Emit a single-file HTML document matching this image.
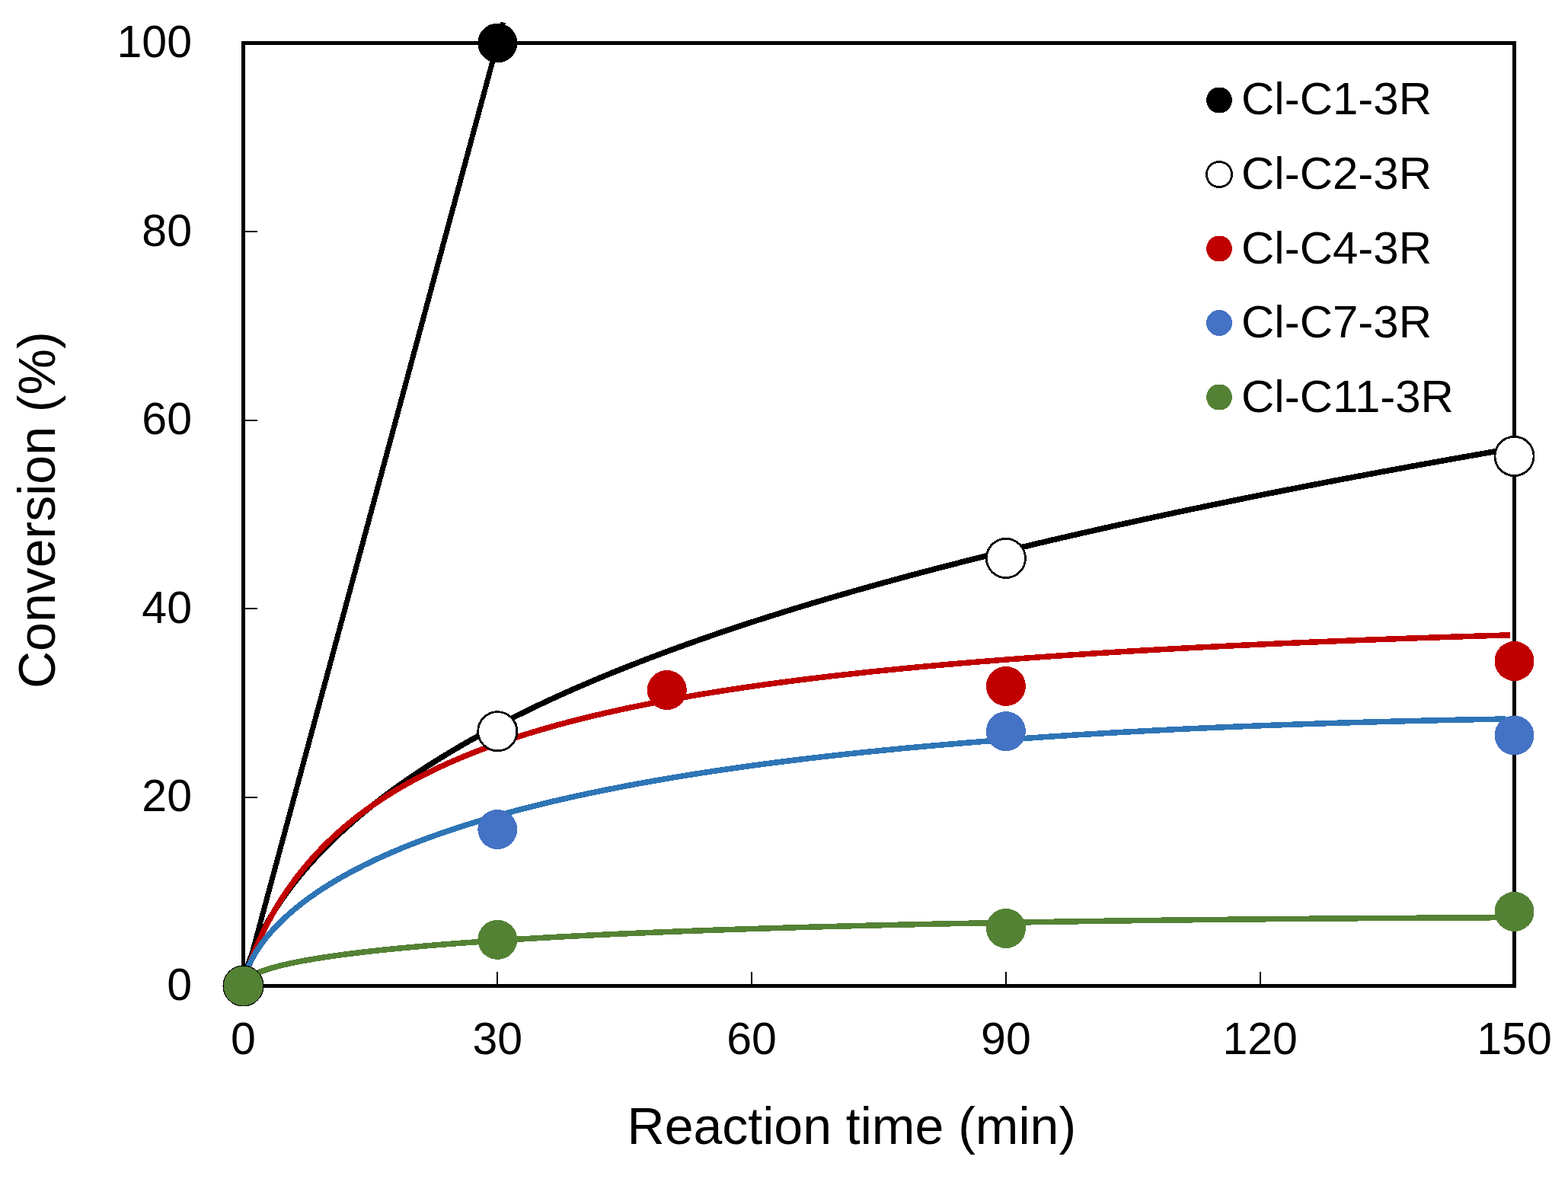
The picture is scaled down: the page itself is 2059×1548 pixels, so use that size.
<!DOCTYPE html>
<html><head><meta charset="utf-8"><title>Conversion vs Reaction time</title>
<style>
html,body{margin:0;padding:0;background:#fff;width:2059px;height:1548px;overflow:hidden}
svg{display:block}
text{font-family:"Liberation Sans",Arial,sans-serif;fill:#000}
</style></head><body>
<svg width="2059" height="1548" viewBox="0 0 2059 1548" shape-rendering="crispEdges">
<rect width="2059" height="1548" fill="#fff"/>
<g id="ticks"><line x1="319.5" y1="1046.90" x2="338" y2="1046.90" stroke="#000" stroke-width="2"/><line x1="319.5" y1="799.30" x2="338" y2="799.30" stroke="#000" stroke-width="2"/><line x1="319.5" y1="551.70" x2="338" y2="551.70" stroke="#000" stroke-width="2"/><line x1="319.5" y1="304.10" x2="338" y2="304.10" stroke="#000" stroke-width="2"/><line x1="653.30" y1="1276" x2="653.30" y2="1294.5" stroke="#000" stroke-width="2"/><line x1="987.10" y1="1276" x2="987.10" y2="1294.5" stroke="#000" stroke-width="2"/><line x1="1320.90" y1="1276" x2="1320.90" y2="1294.5" stroke="#000" stroke-width="2"/><line x1="1654.70" y1="1276" x2="1654.70" y2="1294.5" stroke="#000" stroke-width="2"/></g>
<g id="lines" stroke-linejoin="round"><line x1="319.50" y1="1294.50" x2="660.6" y2="29.5" stroke="#000" stroke-width="7"/><path d="M319.50,1294.50 L319.53,1293.90 L319.62,1292.89 L319.76,1291.62 L319.97,1290.16 L320.23,1288.52 L320.55,1286.75 L320.93,1284.84 L321.37,1282.82 L321.87,1280.69 L322.42,1278.46 L323.04,1276.15 L323.71,1273.74 L324.44,1271.27 L325.23,1268.71 L326.07,1266.09 L326.98,1263.41 L327.94,1260.67 L328.97,1257.86 L330.05,1255.01 L331.19,1252.10 L332.39,1249.15 L333.64,1246.15 L334.96,1243.11 L336.33,1240.03 L337.76,1236.91 L339.25,1233.75 L340.80,1230.56 L342.41,1227.34 L344.07,1224.09 L345.80,1220.81 L347.58,1217.50 L349.42,1214.17 L351.32,1210.82 L353.28,1207.44 L355.29,1204.04 L357.37,1200.62 L359.50,1197.19 L361.69,1193.73 L363.94,1190.27 L366.25,1186.78 L368.62,1183.28 L371.04,1179.77 L373.53,1176.25 L376.07,1172.72 L378.67,1169.18 L381.33,1165.63 L384.04,1162.07 L386.82,1158.50 L389.65,1154.93 L392.55,1151.35 L395.50,1147.77 L398.51,1144.18 L401.58,1140.59 L404.70,1137.00 L407.89,1133.40 L411.13,1129.80 L414.43,1126.20 L417.79,1122.60 L421.21,1119.00 L424.69,1115.40 L428.22,1111.80 L431.82,1108.20 L435.47,1104.61 L439.18,1101.01 L442.95,1097.42 L446.78,1093.83 L450.66,1090.25 L454.61,1086.67 L458.61,1083.09 L462.67,1079.52 L466.79,1075.95 L470.97,1072.38 L475.21,1068.83 L479.50,1065.27 L483.86,1061.73 L488.27,1058.18 L492.74,1054.65 L497.27,1051.12 L501.85,1047.60 L506.50,1044.09 L511.20,1040.58 L515.97,1037.08 L520.79,1033.59 L525.67,1030.10 L530.60,1026.63 L535.60,1023.16 L540.66,1019.70 L545.77,1016.24 L550.94,1012.80 L556.17,1009.36 L561.46,1005.94 L566.81,1002.52 L572.21,999.11 L577.68,995.71 L583.20,992.32 L588.78,988.93 L594.42,985.56 L600.12,982.20 L605.87,978.84 L611.69,975.50 L617.56,972.16 L623.49,968.83 L629.48,965.52 L635.53,962.21 L641.64,958.91 L647.80,955.62 L654.02,952.34 L660.31,949.07 L666.65,945.81 L673.05,942.56 L679.50,939.32 L686.02,936.09 L692.59,932.87 L699.23,929.66 L705.92,926.46 L712.67,923.26 L719.47,920.08 L726.34,916.91 L733.27,913.74 L740.25,910.59 L747.29,907.45 L754.39,904.31 L761.55,901.18 L768.77,898.07 L776.04,894.96 L783.38,891.87 L790.77,888.78 L798.22,885.70 L805.73,882.63 L813.30,879.57 L820.92,876.52 L828.61,873.48 L836.35,870.44 L844.15,867.42 L852.01,864.41 L859.93,861.40 L867.91,858.41 L875.94,855.42 L884.03,852.44 L892.19,849.47 L900.40,846.51 L908.67,843.56 L916.99,840.61 L925.38,837.68 L933.82,834.75 L942.33,831.83 L950.89,828.92 L959.51,826.02 L968.18,823.13 L976.92,820.24 L985.72,817.36 L994.57,814.49 L1003.48,811.63 L1012.45,808.78 L1021.48,805.93 L1030.57,803.10 L1039.71,800.27 L1048.92,797.45 L1058.18,794.63 L1067.50,791.82 L1076.88,789.03 L1086.31,786.23 L1095.81,783.45 L1105.37,780.67 L1114.98,777.90 L1124.65,775.14 L1134.38,772.38 L1144.17,769.63 L1154.01,766.89 L1163.92,764.16 L1173.88,761.43 L1183.91,758.71 L1193.99,755.99 L1204.12,753.29 L1214.32,750.58 L1224.58,747.89 L1234.89,745.20 L1245.26,742.52 L1255.70,739.84 L1266.19,737.17 L1276.73,734.51 L1287.34,731.85 L1298.00,729.20 L1308.73,726.56 L1319.51,723.92 L1330.35,721.28 L1341.25,718.66 L1352.20,716.03 L1363.22,713.42 L1374.29,710.81 L1385.43,708.20 L1396.62,705.60 L1407.87,703.00 L1419.17,700.42 L1430.54,697.83 L1441.96,695.25 L1453.45,692.68 L1464.99,690.11 L1476.59,687.54 L1488.25,684.99 L1499.96,682.43 L1511.74,679.88 L1523.57,677.34 L1535.46,674.80 L1547.41,672.26 L1559.42,669.73 L1571.49,667.20 L1583.62,664.68 L1595.80,662.16 L1608.04,659.65 L1620.34,657.14 L1632.70,654.64 L1645.12,652.14 L1657.60,649.64 L1670.13,647.15 L1682.73,644.66 L1695.38,642.17 L1708.09,639.69 L1720.86,637.21 L1733.68,634.74 L1746.57,632.27 L1759.51,629.80 L1772.52,627.34 L1785.58,624.88 L1798.70,622.43 L1811.87,619.97 L1825.11,617.52 L1838.40,615.08 L1851.76,612.64 L1865.17,610.20 L1878.64,607.76 L1892.17,605.33 L1905.75,602.90 L1919.40,600.47 L1933.10,598.04 L1946.86,595.62 L1960.68,593.20 L1974.56,590.79 L1988.50,588.37" fill="none" stroke="#000" stroke-width="7.5"/><path d="M319.50,1294.50 L319.53,1294.27 L319.62,1293.75 L319.76,1292.98 L319.97,1292.01 L320.23,1290.84 L320.55,1289.50 L320.93,1287.99 L321.36,1286.33 L321.86,1284.51 L322.41,1282.56 L323.02,1280.47 L323.69,1278.26 L324.42,1275.93 L325.21,1273.49 L326.05,1270.94 L326.96,1268.28 L327.92,1265.53 L328.94,1262.70 L330.01,1259.77 L331.15,1256.76 L332.34,1253.68 L333.59,1250.53 L334.91,1247.31 L336.27,1244.03 L337.70,1240.69 L339.19,1237.30 L340.73,1233.86 L342.33,1230.37 L343.99,1226.84 L345.71,1223.27 L347.49,1219.66 L349.32,1216.03 L351.21,1212.37 L353.16,1208.68 L355.17,1204.97 L357.24,1201.24 L359.37,1197.49 L361.55,1193.73 L363.79,1189.96 L366.09,1186.18 L368.45,1182.40 L370.87,1178.61 L373.35,1174.82 L375.88,1171.03 L378.47,1167.25 L381.12,1163.47 L383.83,1159.69 L386.60,1155.92 L389.42,1152.17 L392.30,1148.42 L395.24,1144.69 L398.24,1140.97 L401.30,1137.27 L404.42,1133.58 L407.59,1129.91 L410.82,1126.26 L414.12,1122.63 L417.46,1119.02 L420.87,1115.44 L424.34,1111.88 L427.86,1108.34 L431.44,1104.82 L435.08,1101.33 L438.78,1097.87 L442.54,1094.43 L446.35,1091.02 L450.23,1087.63 L454.16,1084.28 L458.15,1080.95 L462.19,1077.65 L466.30,1074.38 L470.46,1071.14 L474.69,1067.93 L478.97,1064.75 L483.31,1061.60 L487.70,1058.48 L492.16,1055.39 L496.67,1052.32 L501.25,1049.29 L505.88,1046.29 L510.56,1043.33 L515.31,1040.39 L520.12,1037.48 L524.98,1034.60 L529.90,1031.75 L534.88,1028.94 L539.92,1026.15 L545.02,1023.39 L550.17,1020.67 L555.38,1017.97 L560.65,1015.30 L565.98,1012.67 L571.37,1010.06 L576.82,1007.48 L582.32,1004.94 L587.88,1002.42 L593.50,999.93 L599.18,997.47 L604.92,995.03 L610.71,992.63 L616.57,990.25 L622.48,987.90 L628.45,985.58 L634.48,983.29 L640.56,981.02 L646.71,978.78 L652.91,976.57 L659.17,974.38 L665.49,972.22 L671.87,970.09 L678.30,967.98 L684.80,965.90 L691.35,963.84 L697.96,961.81 L704.63,959.80 L711.36,957.82 L718.14,955.86 L724.98,953.92 L731.89,952.01 L738.85,950.12 L745.86,948.25 L752.94,946.41 L760.08,944.59 L767.27,942.79 L774.52,941.02 L781.83,939.26 L789.20,937.53 L796.62,935.82 L804.11,934.13 L811.65,932.46 L819.25,930.81 L826.91,929.19 L834.63,927.58 L842.40,925.99 L850.24,924.42 L858.13,922.87 L866.08,921.34 L874.09,919.83 L882.15,918.34 L890.28,916.87 L898.46,915.41 L906.70,913.98 L915.00,912.56 L923.36,911.16 L931.77,909.77 L940.25,908.40 L948.78,907.05 L957.37,905.72 L966.02,904.40 L974.73,903.10 L983.49,901.82 L992.32,900.55 L1001.20,899.30 L1010.14,898.06 L1019.14,896.84 L1028.20,895.63 L1037.31,894.44 L1046.48,893.26 L1055.72,892.10 L1065.00,890.95 L1074.35,889.82 L1083.76,888.70 L1093.22,887.59 L1102.75,886.50 L1112.33,885.42 L1121.97,884.36 L1131.66,883.31 L1141.42,882.27 L1151.23,881.24 L1161.11,880.23 L1171.04,879.23 L1181.02,878.24 L1191.07,877.26 L1201.18,876.30 L1211.34,875.35 L1221.56,874.41 L1231.84,873.48 L1242.18,872.56 L1252.57,871.66 L1263.03,870.76 L1273.54,869.88 L1284.11,869.01 L1294.74,868.15 L1305.43,867.30 L1316.18,866.46 L1326.98,865.63 L1337.84,864.81 L1348.76,864.00 L1359.74,863.20 L1370.78,862.41 L1381.87,861.63 L1393.03,860.86 L1404.24,860.10 L1415.51,859.35 L1426.84,858.61 L1438.22,857.88 L1449.67,857.16 L1461.17,856.44 L1472.73,855.74 L1484.35,855.04 L1496.03,854.35 L1507.76,853.68 L1519.56,853.01 L1531.41,852.34 L1543.32,851.69 L1555.29,851.05 L1567.32,850.41 L1579.40,849.78 L1591.55,849.16 L1603.75,848.55 L1616.01,847.94 L1628.33,847.34 L1640.70,846.75 L1653.14,846.17 L1665.63,845.60 L1678.18,845.03 L1690.79,844.47 L1703.46,843.92 L1716.19,843.37 L1728.97,842.83 L1741.81,842.30 L1754.71,841.77 L1767.67,841.26 L1780.69,840.74 L1793.76,840.24 L1806.90,839.74 L1820.09,839.25 L1833.34,838.76 L1846.65,838.28 L1860.02,837.81 L1873.44,837.34 L1886.92,836.88 L1900.47,836.43 L1914.06,835.98 L1927.72,835.54 L1941.44,835.10 L1955.21,834.67 L1969.05,834.25 L1982.94,833.83" fill="none" stroke="#C00000" stroke-width="7.5"/><path d="M319.50,1294.50 L319.53,1293.73 L319.62,1292.62 L319.76,1291.32 L319.96,1289.88 L320.23,1288.35 L320.54,1286.72 L320.92,1285.02 L321.36,1283.26 L321.85,1281.44 L322.40,1279.57 L323.01,1277.65 L323.68,1275.69 L324.41,1273.69 L325.19,1271.66 L326.03,1269.60 L326.93,1267.50 L327.89,1265.38 L328.90,1263.24 L329.98,1261.08 L331.11,1258.89 L332.30,1256.69 L333.55,1254.47 L334.85,1252.23 L336.22,1249.98 L337.64,1247.72 L339.12,1245.45 L340.66,1243.16 L342.25,1240.87 L343.91,1238.56 L345.62,1236.25 L347.39,1233.94 L349.22,1231.61 L351.11,1229.29 L353.05,1226.95 L355.05,1224.62 L357.11,1222.28 L359.23,1219.94 L361.41,1217.59 L363.65,1215.25 L365.94,1212.91 L368.29,1210.56 L370.70,1208.22 L373.17,1205.88 L375.69,1203.54 L378.27,1201.20 L380.91,1198.86 L383.61,1196.53 L386.37,1194.20 L389.19,1191.88 L392.06,1189.55 L394.99,1187.24 L397.98,1184.93 L401.03,1182.62 L404.13,1180.32 L407.30,1178.02 L410.52,1175.73 L413.80,1173.45 L417.14,1171.17 L420.53,1168.90 L423.99,1166.64 L427.50,1164.38 L431.07,1162.14 L434.70,1159.90 L438.38,1157.67 L442.13,1155.44 L445.93,1153.23 L449.79,1151.02 L453.71,1148.82 L457.68,1146.64 L461.72,1144.46 L465.81,1142.29 L469.96,1140.13 L474.17,1137.98 L478.43,1135.84 L482.76,1133.71 L487.14,1131.59 L491.58,1129.48 L496.08,1127.38 L500.64,1125.29 L505.25,1123.21 L509.93,1121.14 L514.66,1119.08 L519.45,1117.04 L524.29,1115.00 L529.20,1112.98 L534.16,1110.96 L539.18,1108.96 L544.26,1106.97 L549.40,1104.99 L554.59,1103.02 L559.85,1101.07 L565.16,1099.12 L570.53,1097.19 L575.96,1095.27 L581.44,1093.36 L586.98,1091.46 L592.59,1089.58 L598.25,1087.70 L603.96,1085.84 L609.74,1083.99 L615.57,1082.16 L621.46,1080.33 L627.41,1078.52 L633.42,1076.72 L639.49,1074.93 L645.61,1073.15 L651.79,1071.39 L658.03,1069.64 L664.33,1067.90 L670.69,1066.17 L677.10,1064.46 L683.58,1062.75 L690.11,1061.06 L696.69,1059.39 L703.34,1057.72 L710.05,1056.07 L716.81,1054.43 L723.63,1052.80 L730.51,1051.19 L737.44,1049.59 L744.44,1048.00 L751.49,1046.42 L758.60,1044.86 L765.77,1043.30 L773.00,1041.76 L780.28,1040.24 L787.63,1038.72 L795.03,1037.22 L802.49,1035.73 L810.00,1034.25 L817.58,1032.79 L825.21,1031.34 L832.90,1029.90 L840.65,1028.47 L848.46,1027.06 L856.33,1025.65 L864.25,1024.26 L872.23,1022.89 L880.27,1021.52 L888.37,1020.17 L896.52,1018.83 L904.74,1017.50 L913.01,1016.19 L921.34,1014.88 L929.73,1013.59 L938.17,1012.32 L946.68,1011.05 L955.24,1009.80 L963.86,1008.56 L972.54,1007.33 L981.27,1006.11 L990.07,1004.91 L998.92,1003.71 L1007.83,1002.53 L1016.80,1001.36 L1025.83,1000.21 L1034.91,999.07 L1044.05,997.93 L1053.25,996.81 L1062.51,995.71 L1071.83,994.61 L1081.20,993.53 L1090.64,992.46 L1100.13,991.40 L1109.68,990.35 L1119.28,989.31 L1128.95,988.29 L1138.67,987.28 L1148.45,986.28 L1158.29,985.29 L1168.19,984.31 L1178.14,983.35 L1188.16,982.39 L1198.23,981.45 L1208.36,980.52 L1218.54,979.60 L1228.79,978.70 L1239.09,977.80 L1249.45,976.92 L1259.87,976.05 L1270.35,975.19 L1280.89,974.34 L1291.48,973.50 L1302.13,972.67 L1312.84,971.86 L1323.61,971.06 L1334.44,970.26 L1345.32,969.48 L1356.26,968.71 L1367.26,967.96 L1378.32,967.21 L1389.44,966.47 L1400.61,965.75 L1411.84,965.04 L1423.13,964.33 L1434.48,963.64 L1445.89,962.96 L1457.35,962.29 L1468.87,961.63 L1480.46,960.99 L1492.09,960.35 L1503.79,959.73 L1515.55,959.11 L1527.36,958.51 L1539.23,957.91 L1551.16,957.33 L1563.14,956.76 L1575.19,956.20 L1587.29,955.65 L1599.45,955.11 L1611.67,954.58 L1623.95,954.07 L1636.28,953.56 L1648.68,953.06 L1661.13,952.58 L1673.64,952.10 L1686.21,951.64 L1698.83,951.18 L1711.51,950.74 L1724.26,950.30 L1737.06,949.88 L1749.91,949.47 L1762.83,949.06 L1775.80,948.67 L1788.83,948.29 L1801.92,947.92 L1815.07,947.56 L1828.28,947.20 L1841.54,946.86 L1854.86,946.53 L1868.24,946.21 L1881.68,945.90 L1895.18,945.60 L1908.73,945.31 L1922.34,945.03 L1936.01,944.75 L1949.74,944.49 L1963.53,944.24 L1977.37,944.00" fill="none" stroke="#2E75B6" stroke-width="7.5"/><path d="M319.50,1294.50 L319.53,1293.80 L319.62,1293.10 L319.76,1292.40 L319.97,1291.70 L320.23,1291.00 L320.55,1290.31 L320.93,1289.62 L321.37,1288.93 L321.87,1288.25 L322.42,1287.57 L323.04,1286.89 L323.71,1286.21 L324.44,1285.54 L325.23,1284.87 L326.07,1284.20 L326.98,1283.53 L327.94,1282.87 L328.97,1282.21 L330.05,1281.55 L331.19,1280.90 L332.39,1280.25 L333.64,1279.60 L334.96,1278.96 L336.33,1278.31 L337.76,1277.67 L339.25,1277.04 L340.80,1276.40 L342.41,1275.77 L344.07,1275.14 L345.80,1274.52 L347.58,1273.89 L349.42,1273.27 L351.32,1272.66 L353.28,1272.04 L355.29,1271.43 L357.37,1270.82 L359.50,1270.22 L361.69,1269.62 L363.94,1269.02 L366.25,1268.42 L368.62,1267.83 L371.04,1267.23 L373.53,1266.65 L376.07,1266.06 L378.67,1265.48 L381.33,1264.90 L384.04,1264.32 L386.82,1263.75 L389.65,1263.17 L392.55,1262.61 L395.50,1262.04 L398.51,1261.48 L401.58,1260.92 L404.70,1260.36 L407.89,1259.81 L411.13,1259.25 L414.43,1258.71 L417.79,1258.16 L421.21,1257.62 L424.69,1257.08 L428.22,1256.54 L431.82,1256.01 L435.47,1255.47 L439.18,1254.94 L442.95,1254.42 L446.78,1253.90 L450.66,1253.37 L454.61,1252.86 L458.61,1252.34 L462.67,1251.83 L466.79,1251.32 L470.97,1250.81 L475.21,1250.31 L479.50,1249.81 L483.86,1249.31 L488.27,1248.82 L492.74,1248.32 L497.27,1247.84 L501.85,1247.35 L506.50,1246.86 L511.20,1246.38 L515.97,1245.91 L520.79,1245.43 L525.67,1244.96 L530.60,1244.49 L535.60,1244.02 L540.66,1243.56 L545.77,1243.09 L550.94,1242.64 L556.17,1242.18 L561.46,1241.73 L566.81,1241.28 L572.21,1240.83 L577.68,1240.38 L583.20,1239.94 L588.78,1239.50 L594.42,1239.07 L600.12,1238.63 L605.87,1238.20 L611.69,1237.77 L617.56,1237.35 L623.49,1236.92 L629.48,1236.50 L635.53,1236.09 L641.64,1235.67 L647.80,1235.26 L654.02,1234.85 L660.31,1234.45 L666.65,1234.04 L673.05,1233.64 L679.50,1233.25 L686.02,1232.85 L692.59,1232.46 L699.23,1232.07 L705.92,1231.68 L712.67,1231.30 L719.47,1230.92 L726.34,1230.54 L733.27,1230.16 L740.25,1229.79 L747.29,1229.42 L754.39,1229.05 L761.55,1228.69 L768.77,1228.32 L776.04,1227.97 L783.38,1227.61 L790.77,1227.26 L798.22,1226.90 L805.73,1226.56 L813.30,1226.21 L820.92,1225.87 L828.61,1225.53 L836.35,1225.19 L844.15,1224.86 L852.01,1224.52 L859.93,1224.19 L867.91,1223.87 L875.94,1223.54 L884.03,1223.22 L892.19,1222.90 L900.40,1222.59 L908.67,1222.28 L916.99,1221.97 L925.38,1221.66 L933.82,1221.35 L942.33,1221.05 L950.89,1220.75 L959.51,1220.46 L968.18,1220.16 L976.92,1219.87 L985.72,1219.58 L994.57,1219.30 L1003.48,1219.01 L1012.45,1218.73 L1021.48,1218.45 L1030.57,1218.18 L1039.71,1217.91 L1048.92,1217.64 L1058.18,1217.37 L1067.50,1217.11 L1076.88,1216.84 L1086.31,1216.59 L1095.81,1216.33 L1105.37,1216.08 L1114.98,1215.83 L1124.65,1215.58 L1134.38,1215.33 L1144.17,1215.09 L1154.01,1214.85 L1163.92,1214.61 L1173.88,1214.38 L1183.91,1214.14 L1193.99,1213.92 L1204.12,1213.69 L1214.32,1213.46 L1224.58,1213.24 L1234.89,1213.02 L1245.26,1212.81 L1255.70,1212.60 L1266.19,1212.38 L1276.73,1212.18 L1287.34,1211.97 L1298.00,1211.77 L1308.73,1211.57 L1319.51,1211.37 L1330.35,1211.18 L1341.25,1210.98 L1352.20,1210.79 L1363.22,1210.61 L1374.29,1210.42 L1385.43,1210.24 L1396.62,1210.06 L1407.87,1209.89 L1419.17,1209.71 L1430.54,1209.54 L1441.96,1209.38 L1453.45,1209.21 L1464.99,1209.05 L1476.59,1208.89 L1488.25,1208.73 L1499.96,1208.57 L1511.74,1208.42 L1523.57,1208.27 L1535.46,1208.12 L1547.41,1207.98 L1559.42,1207.84 L1571.49,1207.70 L1583.62,1207.56 L1595.80,1207.43 L1608.04,1207.30 L1620.34,1207.17 L1632.70,1207.04 L1645.12,1206.92 L1657.60,1206.80 L1670.13,1206.68 L1682.73,1206.57 L1695.38,1206.45 L1708.09,1206.34 L1720.86,1206.24 L1733.68,1206.13 L1746.57,1206.03 L1759.51,1205.93 L1772.52,1205.83 L1785.58,1205.74 L1798.70,1205.64 L1811.87,1205.55 L1825.11,1205.47 L1838.40,1205.38 L1851.76,1205.30 L1865.17,1205.22 L1878.64,1205.15 L1892.17,1205.07 L1905.75,1205.00 L1919.40,1204.93 L1933.10,1204.87 L1946.86,1204.81 L1960.68,1204.74 L1974.56,1204.69 L1988.50,1204.63" fill="none" stroke="#548235" stroke-width="7.5"/></g>
<rect x="319.5" y="56.5" width="1669.0" height="1238.0" fill="none" stroke="#000" stroke-width="5"/>
<g id="markers"><circle cx="319.50" cy="1294.50" r="26" fill="#000"/><circle cx="653.30" cy="56.50" r="26" fill="#000"/><circle cx="319.50" cy="1294.50" r="25.6" fill="#fff" stroke="#000" stroke-width="2.8"/><circle cx="653.30" cy="960.24" r="25.6" fill="#fff" stroke="#000" stroke-width="2.8"/><circle cx="1320.90" cy="732.94" r="25.6" fill="#fff" stroke="#000" stroke-width="2.8"/><circle cx="1988.50" cy="598.99" r="25.6" fill="#fff" stroke="#000" stroke-width="2.8"/><circle cx="319.50" cy="1294.50" r="26" fill="#C00000"/><circle cx="875.83" cy="906.02" r="26" fill="#C00000"/><circle cx="1320.90" cy="900.94" r="26" fill="#C00000"/><circle cx="1988.50" cy="868.01" r="26" fill="#C00000"/><circle cx="319.50" cy="1294.50" r="26" fill="#4472C4"/><circle cx="653.30" cy="1088.99" r="26" fill="#4472C4"/><circle cx="1320.90" cy="960.12" r="26" fill="#4472C4"/><circle cx="1988.50" cy="965.44" r="26" fill="#4472C4"/><circle cx="319.50" cy="1294.50" r="26" fill="#548235"/><circle cx="653.30" cy="1233.84" r="26" fill="#548235"/><circle cx="1320.90" cy="1218.98" r="26" fill="#548235"/><circle cx="1988.50" cy="1196.95" r="26" fill="#548235"/></g>
<g id="labels" font-size="59"><text x="252" y="1313.0" text-anchor="end">0</text><text x="252" y="1065.4" text-anchor="end">20</text><text x="252" y="817.8" text-anchor="end">40</text><text x="252" y="570.2" text-anchor="end">60</text><text x="252" y="322.6" text-anchor="end">80</text><text x="252" y="75.0" text-anchor="end">100</text><text x="319.5" y="1383.5" text-anchor="middle">0</text><text x="653.3" y="1383.5" text-anchor="middle">30</text><text x="987.1" y="1383.5" text-anchor="middle">60</text><text x="1320.9" y="1383.5" text-anchor="middle">90</text><text x="1654.7" y="1383.5" text-anchor="middle">120</text><text x="1988.5" y="1383.5" text-anchor="middle">150</text></g>
<text x="823.6" y="1502.4" font-size="68">Reaction time (min)</text>
<text transform="translate(71.9,904) rotate(-90)" font-size="68">Conversion (%)</text>
<g id="legend"><circle cx="1601" cy="131.5" r="17" fill="#000"/><text x="1630" y="150.0" font-size="60">Cl-C1-3R</text><circle cx="1601" cy="229.0" r="16.6" fill="#fff" stroke="#000" stroke-width="2.8"/><text x="1630" y="247.8" font-size="60">Cl-C2-3R</text><circle cx="1601" cy="326.5" r="17" fill="#C00000"/><text x="1630" y="345.5" font-size="60">Cl-C4-3R</text><circle cx="1601" cy="424.0" r="17" fill="#4472C4"/><text x="1630" y="443.2" font-size="60">Cl-C7-3R</text><circle cx="1601" cy="521.5" r="17" fill="#548235"/><text x="1630" y="541.0" font-size="60">Cl-C11-3R</text></g>
</svg>
</body></html>
